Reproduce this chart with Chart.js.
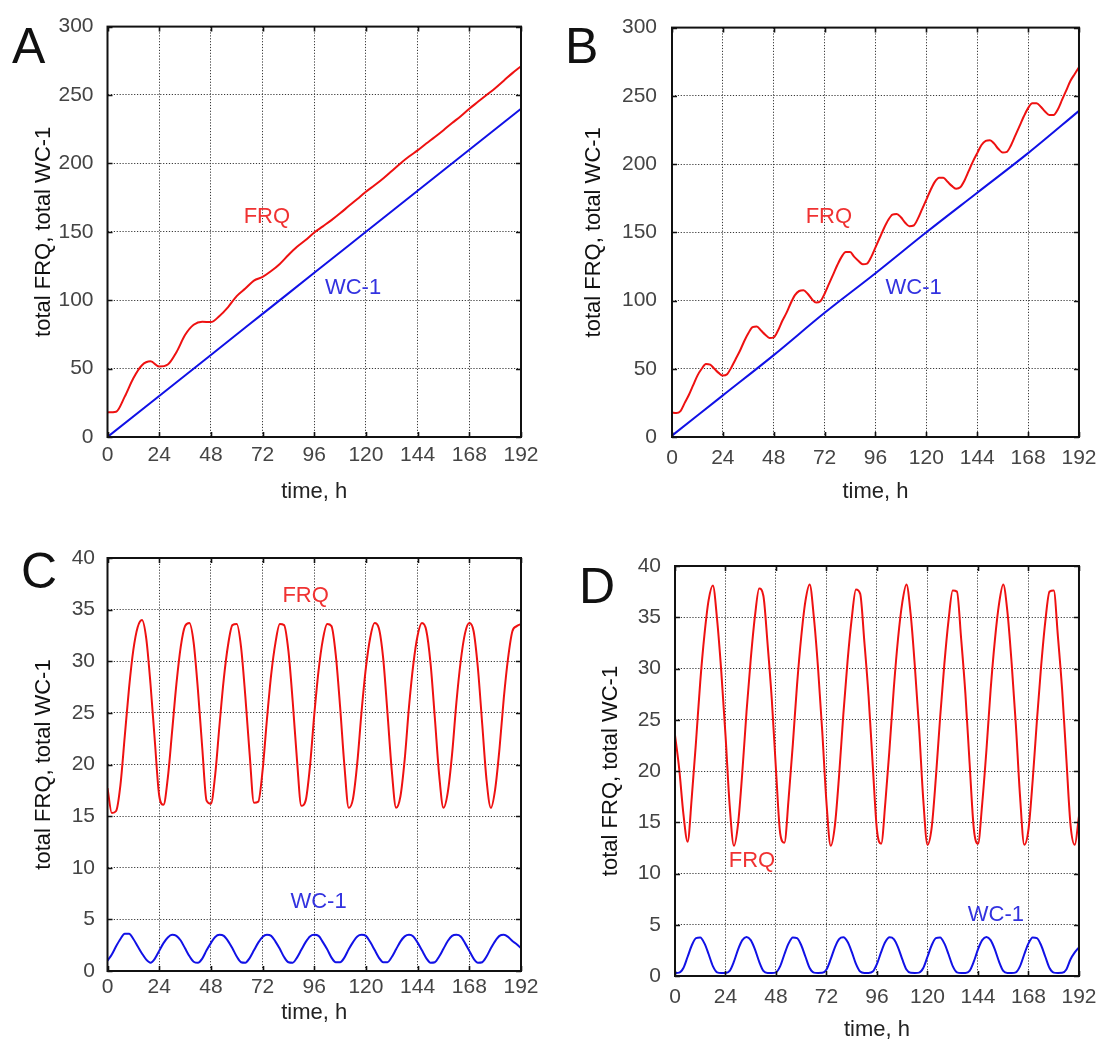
<!DOCTYPE html>
<html>
<head>
<meta charset="utf-8">
<script src="https://cdn.jsdelivr.net/npm/chart.js@4.4.1/dist/chart.umd.min.js"></script>
<style>
  body { margin: 0; background: #fff; }
  #wrap { position: relative; width: 1105px; height: 1045px; overflow: hidden; }
  #wrap canvas { position: absolute; }
  .tag { position: absolute; font-family: "Liberation Sans", Arial, sans-serif; font-size: 50px; line-height: 1; color: #111; }
</style>
</head>
<body>
<div id="wrap">
  <canvas id="chartA" width="552" height="520" style="left:0;top:0"></canvas>
  <canvas id="chartB" width="553" height="520" style="left:552px;top:0"></canvas>
  <canvas id="chartC" width="552" height="525" style="left:0;top:520px"></canvas>
  <canvas id="chartD" width="553" height="525" style="left:552px;top:520px"></canvas>
  <div class="tag" style="left:12px;top:21px">A</div>
  <div class="tag" style="left:565px;top:21px">B</div>
  <div class="tag" style="left:21px;top:546px">C</div>
  <div class="tag" style="left:579px;top:561px">D</div>
</div>
<script>
'use strict';

// time axes (hours)
const hours2 = [0,2,4,6,8,10,12,14,16,18,20,22,24,26,28,30,32,34,36,38,40,42,44,46,48,
  50,52,54,56,58,60,62,64,66,68,70,72,74,76,78,80,82,84,86,88,90,92,94,96,
  98,100,102,104,106,108,110,112,114,116,118,120,122,124,126,128,130,132,134,136,138,140,142,144,
  146,148,150,152,154,156,158,160,162,164,166,168,170,172,174,176,178,180,182,184,186,188,190,192];
const hours4 = [0,4,8,12,16,20,24,28,32,36,40,44,48,52,56,60,64,68,72,76,80,84,88,92,96,
  100,104,108,112,116,120,124,128,132,136,140,144,148,152,156,160,164,168,172,176,180,184,188,192];
const hours24 = [0,24,48,72,96,120,144,168,192];

const xTicks = [0,24,48,72,96,120,144,168,192];
const yTicksAB = [0,50,100,150,200,250,300];
const yTicksCD = [0,5,10,15,20,25,30,35,40];

// panel A
const frqA = [18,18.5,29.5,43,52.5,55.3,51.5,53,62,74.5,82,84.3,84,88.5,95,103,108.5,114.3,117,121.3,
  126.5,133,139,144,149.5,154,158.5,163.5,168.8,174,179.3,184,189,194.5,200,205,209.5,214.5,219.3,224.3,
  229.5,234.5,240,245,250,255,260.5,266,271];
const wcA = [0,30,60,90,120,150,180,210,240];

// panel B
const frqB = [18,17.5,19,25,31,38,45,50,53.5,53,50,47,45,46,51,57,63,70,76,80.5,
  81,78,75,72.5,73,78,85,91,98,104,107,107.5,105,101,98.5,99.5,105,112,119,126,
  132,135.5,135.5,132,129,126.5,127,132,139,146,153,159,163,163.5,161,157,154.5,155,160,167,
  174,181,187,190,190,187,184,182,183,188,195,202,208,214,217,217.5,215,211,208.5,209,
  214,221,228,235,241,244.5,244.5,242,238.5,236,236,240,247,254,261,266,271];
const wcB = [1,30.5,60,91,120,150,179,208,239];

// panel C
const frqC = [17.7,15.3,15.5,18.0,22.7,27.4,31.1,33.3,34.0,32.2,27.7,22.2,17.0,16.1,18.7,23.2,27.8,31.4,33.4,33.7,
  31.8,27.2,21.6,16.5,16.2,19.0,23.8,28.3,31.6,33.5,33.6,31.4,26.6,21.0,16.3,16.4,19.4,24.3,28.7,31.8,
  33.6,33.5,31.0,26.1,20.4,16.0,16.5,19.8,24.8,29.1,32.1,33.6,33.4,30.6,25.6,19.9,15.8,16.7,20.2,25.2,
  29.4,32.3,33.7,33.2,30.3,25.0,19.4,15.8,16.9,20.5,25.6,29.7,32.5,33.7,33.0,29.8,24.5,19.0,15.8,17.3,
  21.0,26.0,30.0,32.7,33.7,32.9,29.3,23.9,18.5,15.8,17.6,21.5,26.4,30.3,32.9,33.4,33.6];
const wcC = [1.0,1.6,2.4,3.1,3.6,3.6,3.1,2.4,1.7,1.1,0.8,1.2,1.95,2.7,3.25,3.5,3.4,2.95,2.2,1.45,
  0.9,0.8,1.2,2.0,2.7,3.3,3.5,3.4,2.9,2.2,1.4,0.85,0.8,1.25,2.0,2.75,3.3,3.5,3.4,2.85,
  2.15,1.35,0.85,0.8,1.3,2.05,2.8,3.35,3.5,3.4,2.8,2.1,1.3,0.85,0.85,1.3,2.1,2.8,3.35,3.5,
  3.4,2.8,2.05,1.3,0.85,0.85,1.35,2.1,2.85,3.35,3.5,3.35,2.75,2.0,1.25,0.8,0.85,1.4,2.15,2.9,
  3.4,3.5,3.35,2.7,1.95,1.2,0.8,0.85,1.4,2.2,2.9,3.4,3.5,3.3,2.9,2.6,2.2];

// panel D
const frqD = [23.5,20.2,15.8,13.1,17.5,22.9,28.7,33.3,36.7,38.1,34.8,29.7,23.5,16.6,12.7,14.9,19.9,25.8,30.9,35.1,
  37.8,37.1,32.4,27.0,20.1,13.9,13.0,17.3,22.6,28.4,33.1,36.6,38.2,35.0,30.0,23.8,16.9,12.7,14.7,19.6,
  25.5,30.7,34.9,37.7,37.3,32.6,27.3,20.5,14.2,12.9,17.0,22.3,28.1,32.9,36.4,38.2,35.3,30.2,24.2,17.2,
  12.8,14.5,19.4,25.2,30.4,34.7,37.6,37.5,32.9,27.6,20.8,14.4,12.9,16.8,22.0,27.9,32.7,36.3,38.2,35.5,
  30.5,24.5,17.5,12.8,14.3,19.1,24.9,30.2,34.6,37.5,37.6,33.1,27.9,21.2,14.7,12.8,15.6];
const wcD = [0.3,0.33,0.78,1.88,3.0,3.7,3.76,3.18,2.12,0.96,0.36,0.3,0.3,0.5,1.4,2.6,3.5,3.8,3.5,2.6,
  1.4,0.5,0.3,0.3,0.36,0.96,2.12,3.18,3.76,3.7,3.0,1.88,0.78,0.33,0.3,0.31,0.64,1.64,2.8,3.6,
  3.78,3.34,2.36,1.18,0.43,0.3,0.3,0.43,1.18,2.36,3.34,3.78,3.6,2.8,1.64,0.64,0.31,0.3,0.33,0.78,
  1.88,3.0,3.7,3.76,3.18,2.12,0.96,0.36,0.3,0.3,0.5,1.4,2.6,3.5,3.8,3.5,2.6,1.4,0.5,0.3,
  0.3,0.36,0.96,2.12,3.18,3.76,3.7,3.0,1.88,0.78,0.33,0.3,0.31,0.64,1.64,2.3,2.8];

const RED = '#ee1111';
const BLUE = '#1111e6';
const FONT = '"Liberation Sans", Arial, sans-serif';

// frame, inward tick marks and in-plot labels
function panelDecor(labels) {
  return {
    id: 'panelDecor',
    afterDatasetsDraw(chart) {
      const { ctx, chartArea: a, scales: { x, y } } = chart;
      ctx.save();
      ctx.strokeStyle = '#111';
      ctx.lineWidth = 1.6;
      x.ticks.forEach(t => {
        const px = Math.round(x.getPixelForValue(t.value)) + 0.5;
        ctx.beginPath();
        ctx.moveTo(px, a.top); ctx.lineTo(px, a.top + 5);
        ctx.moveTo(px, a.bottom); ctx.lineTo(px, a.bottom - 5);
        ctx.stroke();
      });
      y.ticks.forEach(t => {
        const py = Math.round(y.getPixelForValue(t.value)) + 0.5;
        ctx.beginPath();
        ctx.moveTo(a.left, py); ctx.lineTo(a.left + 5, py);
        ctx.moveTo(a.right, py); ctx.lineTo(a.right - 5, py);
        ctx.stroke();
      });
      ctx.lineWidth = 2;
      ctx.strokeRect(a.left, a.top, a.right - a.left, a.bottom - a.top);

      ctx.font = '22px ' + FONT;
      ctx.textAlign = 'center';
      ctx.textBaseline = 'middle';
      labels.forEach(l => {
        ctx.fillStyle = l.color;
        ctx.fillText(l.text, x.getPixelForValue(l.x), y.getPixelForValue(l.y));
      });
      ctx.restore();
    }
  };
}

function makePanel(id, cfg) {
  const canvas = document.getElementById(id);
  return new Chart(canvas, {
    type: 'line',
    data: {
      datasets: cfg.series.map(s => ({
        data: s.x.map((t, i) => ({ x: t, y: s.y[i] })),
        borderColor: s.color,
        borderWidth: 2,
        pointRadius: 0,
        cubicInterpolationMode: 'monotone',
        fill: false
      }))
    },
    options: {
      responsive: false,
      animation: false,
      devicePixelRatio: 1,
      layout: { padding: { left: 0, right: cfg.padRight, top: cfg.padTop, bottom: 0 } },
      plugins: { legend: { display: false }, tooltip: { enabled: false } },
      scales: {
        x: {
          type: 'linear',
          min: 0,
          max: 192,
          afterBuildTicks: s => { s.ticks = xTicks.map(v => ({ value: v })); },
          afterFit: s => { s.height = cfg.xAxisH; },
          ticks: { padding: cfg.xTickPad, color: '#444', font: { family: FONT, size: 21 } },
          grid: { color: '#3a3a3a', lineWidth: 1, drawTicks: false },
          border: { display: false, dash: [1.2, 1.7] },
          title: {
            display: true, text: 'time, h', color: '#222',
            font: { family: FONT, size: 22 },
            padding: { top: 0, bottom: cfg.xTitlePad }
          }
        },
        y: {
          type: 'linear',
          min: 0,
          max: cfg.yTicks[cfg.yTicks.length - 1],
          afterBuildTicks: s => { s.ticks = cfg.yTicks.map(v => ({ value: v })); },
          afterFit: s => { s.width = cfg.yAxisW; },
          ticks: { padding: cfg.yTickPad, color: '#444', font: { family: FONT, size: 21 } },
          grid: { color: '#3a3a3a', lineWidth: 1, drawTicks: false },
          border: { display: false, dash: [1.2, 1.7] },
          title: {
            display: true, text: 'total FRQ, total WC-1', color: '#111',
            font: { family: FONT, size: 22 },
            padding: { top: cfg.yTitlePad, bottom: 0 }
          }
        }
      }
    },
    plugins: [panelDecor(cfg.labels)]
  });
}

makePanel('chartA', {
  series: [{ x: hours4, y: frqA, color: RED }, { x: hours24, y: wcA, color: BLUE }],
  yTicks: yTicksAB,
  padTop: 24, padRight: 31, yAxisW: 107.5, xAxisH: 83,
  yTickPad: 14, xTickPad: 5.5, xTitlePad: 15, yTitlePad: 31,
  labels: [{ text: 'FRQ', x: 74, y: 161, color: '#f03232' }, { text: 'WC-1', x: 114, y: 109, color: '#3333e0' }]
});

makePanel('chartB', {
  series: [{ x: hours2, y: frqB, color: RED }, { x: hours24, y: wcB, color: BLUE }],
  yTicks: yTicksAB,
  padTop: 24, padRight: 21, yAxisW: 120, xAxisH: 83,
  yTickPad: 15, xTickPad: 8.5, xTitlePad: 15, yTitlePad: 29,
  labels: [{ text: 'FRQ', x: 74, y: 161, color: '#f03232' }, { text: 'WC-1', x: 114, y: 109, color: '#3333e0' }]
});

makePanel('chartC', {
  series: [{ x: hours2, y: frqC, color: RED }, { x: hours2, y: wcC, color: BLUE }],
  yTicks: yTicksCD,
  padTop: 38, padRight: 31, yAxisW: 107.5, xAxisH: 74,
  yTickPad: 12.5, xTickPad: 3.5, xTitlePad: 19, yTitlePad: 31,
  labels: [{ text: 'FRQ', x: 92, y: 36.3, color: '#f03232' }, { text: 'WC-1', x: 98, y: 6.7, color: '#3333e0' }]
});

makePanel('chartD', {
  series: [{ x: hours2, y: frqD, color: RED }, { x: hours2, y: wcD, color: BLUE }],
  yTicks: yTicksCD,
  padTop: 46, padRight: 19, yAxisW: 123, xAxisH: 69,
  yTickPad: 14, xTickPad: 8.5, xTitlePad: 2, yTitlePad: 46,
  labels: [{ text: 'FRQ', x: 36.6, y: 11.2, color: '#f03232' }, { text: 'WC-1', x: 152.5, y: 6.0, color: '#3333e0' }]
});
</script>
</body>
</html>
